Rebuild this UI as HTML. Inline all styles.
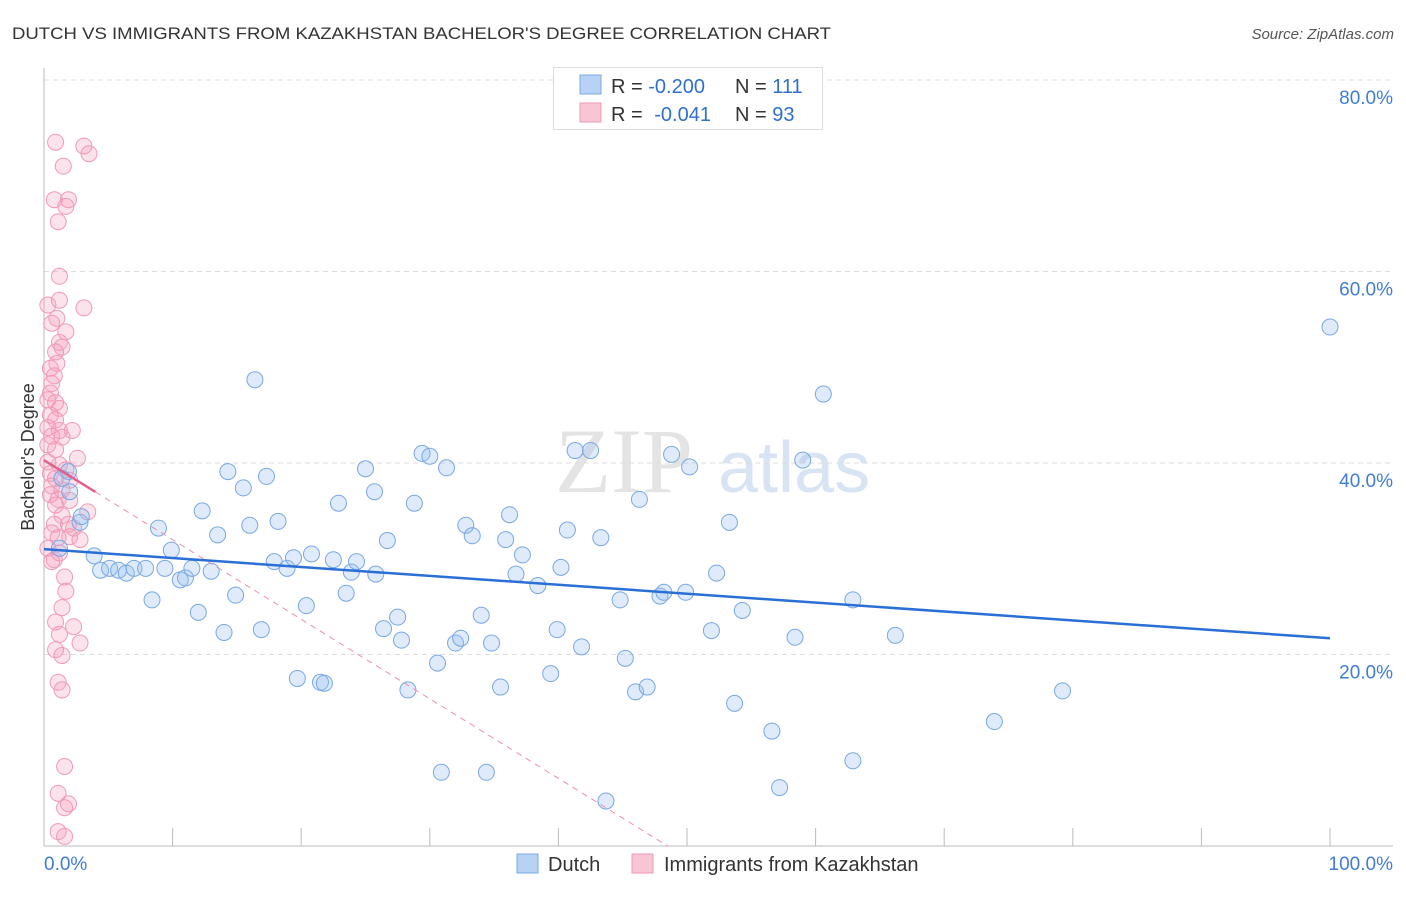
<!DOCTYPE html>
<html><head><meta charset="utf-8"><style>
body{margin:0;background:#fff;width:1406px;height:892px;overflow:hidden;font-family:"Liberation Sans",sans-serif}
</style></head><body>
<svg id="chart" width="1406" height="892" xmlns="http://www.w3.org/2000/svg" font-family="Liberation Sans, sans-serif">
<text x="12" y="39" font-size="17" fill="#333" textLength="819" lengthAdjust="spacingAndGlyphs">DUTCH VS IMMIGRANTS FROM KAZAKHSTAN BACHELOR'S DEGREE CORRELATION CHART</text>
<text x="1394" y="39" font-size="15" fill="#555" text-anchor="end" font-style="italic">Source: ZipAtlas.com</text>
<g><text x="555" y="492" font-size="92" fill="#e4e4e4" font-family="Liberation Serif, serif">ZIP</text><text x="718" y="492" font-size="72" fill="#d8e3f3">atlas</text></g>
<g id="grid"></g><g id="axes"></g><g id="marks"></g>
<text transform="translate(34,457) rotate(-90)" font-size="18" fill="#333" text-anchor="middle">Bachelor's Degree</text>
<g>
<rect x="553.5" y="67.5" width="269" height="62" fill="#fff" stroke="#ddd"/>
<rect x="580" y="75" width="21" height="19" fill="#b8d2f6" stroke="#7aa8e8"/>
<rect x="580" y="103" width="21" height="19" fill="#f9c5d4" stroke="#ee9ab3"/>
<text x="611" y="93" font-size="20" fill="#333">R = <tspan fill="#2f6fd0">-0.200</tspan></text>
<text x="735" y="93" font-size="20" fill="#333">N = <tspan fill="#2f6fd0">111</tspan></text>
<text x="611" y="121" font-size="20" fill="#333">R = <tspan fill="#2f6fd0" dx="6">-0.041</tspan></text>
<text x="735" y="121" font-size="20" fill="#333">N = <tspan fill="#2f6fd0">93</tspan></text>
</g>
<g>
<rect x="517" y="854" width="21" height="19" fill="#b8d2f6" stroke="#7aa8e8"/>
<text x="548" y="871" font-size="20" fill="#333">Dutch</text>
<rect x="632" y="854" width="21" height="19" fill="#f9c5d4" stroke="#ee9ab3"/>
<text x="664" y="871" font-size="20" fill="#333">Immigrants from Kazakhstan</text>
</g>
</svg>
<script>
const yTicks=[20,40,60,80];
const yTickLabels=["20.0%","40.0%","60.0%","80.0%"];
const xLabels=["0.0%","100.0%"];
const dutchX=[100,16.4,60.6,1.9,1.4,2.0,2.8,2.9,1.2,3.9,4.4,5.1,5.8,6.4,7.0,7.9,8.9,9.9,9.4,8.4,10.6,11.0,11.5,12.0,12.3,13.0,13.5,14.0,14.3,14.9,15.5,16.0,16.9,17.3,18.2,17.9,18.9,19.4,19.7,20.4,20.8,21.5,21.8,22.5,22.9,23.5,23.9,24.3,25.0,25.7,25.8,26.4,26.7,27.5,27.8,28.3,28.8,29.4,30.0,30.6,30.9,31.3,32.0,32.4,32.8,33.3,34.0,34.4,34.8,35.5,35.9,36.2,36.7,37.2,38.4,39.4,39.9,40.2,40.7,41.3,41.8,42.5,43.3,43.7,44.8,45.2,46.0,46.3,46.9,47.9,48.2,48.8,49.9,50.2,51.9,52.3,53.3,53.7,54.3,56.6,57.2,58.4,59.0,62.9,62.9,66.2,73.9,79.2];
const dutchY=[54.2,48.7,47.2,39.1,38.4,37.0,33.8,34.4,31.1,30.3,28.8,29.0,28.8,28.5,29.0,29.0,33.2,30.9,29.0,25.7,27.8,28.0,29.0,24.4,35.0,28.7,32.5,22.3,39.1,26.2,37.4,33.5,22.6,38.6,33.9,29.7,29.0,30.1,17.5,25.1,30.5,17.1,17.0,29.9,35.8,26.4,28.6,29.7,39.4,37.0,28.4,22.7,31.9,23.9,21.5,16.3,35.8,41.0,40.7,19.1,7.7,39.5,21.2,21.7,33.5,32.4,24.1,7.7,21.2,16.6,32.0,34.6,28.4,30.4,27.2,18.0,22.6,29.1,33.0,41.3,20.8,41.3,32.2,4.7,25.7,19.6,16.1,36.2,16.6,26.1,26.5,40.9,26.5,39.6,22.5,28.5,33.8,14.9,24.6,12.0,6.1,21.8,40.3,8.9,25.7,22.0,13.0,16.2];
const kazX=[0.9,3.1,3.5,1.5,0.8,1.9,1.7,1.1,1.2,3.1,0.3,1.2,1.0,0.6,1.7,1.2,1.4,0.9,1.0,0.5,0.8,0.6,0.5,0.3,0.9,1.2,0.5,0.9,0.3,1.2,2.2,0.6,1.4,0.3,0.9,2.6,0.3,1.2,1.7,0.5,0.9,2.0,0.6,1.4,0.5,1.1,2.0,0.9,3.4,1.4,0.8,1.9,2.3,0.6,1.1,2.0,2.8,0.3,1.2,0.8,0.6,1.6,1.7,1.4,0.9,2.3,1.2,2.8,0.9,1.4,1.1,1.4,1.6,1.1,1.9,1.6,1.1,1.6];
const kazY=[73.5,73.1,72.3,71.0,67.5,67.5,66.8,65.2,59.5,56.2,56.5,57.0,55.1,54.6,53.7,52.6,52.1,51.6,50.4,49.9,49.1,48.3,47.3,46.6,46.3,45.7,45.0,44.5,43.7,43.4,43.4,42.8,42.7,41.9,41.4,40.5,40.1,39.8,39.3,38.9,38.4,38.2,37.6,37.2,36.7,36.2,36.1,35.6,34.9,34.5,33.6,33.6,33.2,32.7,32.2,32.3,32.0,31.1,30.6,29.9,29.7,28.1,26.6,24.9,23.4,22.9,22.1,21.2,20.5,19.9,17.1,16.3,8.3,5.5,4.4,4.0,1.5,1.0];
const dutchTrend=[31.0,21.7];
const kazTrend=[40.3,0];
const kazTrendX=48.5, kazSolidEnd=4;
const NS="http://www.w3.org/2000/svg";
const X=v=>44+v*12.86, Y=v=>846-v*9.575;
function mk(t,a,p){const e=document.createElementNS(NS,t);for(const k in a)e.setAttribute(k,a[k]);document.getElementById(p).appendChild(e);return e;}
yTicks.forEach((t,i)=>{
 const l=mk('line',{x1:44,x2:1393,y1:Y(t),y2:Y(t),stroke:'#ddd','stroke-dasharray':'5,4'},'grid');
 
 
 const tx=mk('text',{x:1393,y:Y(t)+24,'font-size':19,fill:'#3f7dd6','text-anchor':'end'},'grid');
 tx.textContent=yTickLabels[i];
 
 
});
const ax=mk('line',{x1:44,x2:44,y1:68,y2:846,stroke:'#bbb'},'axes');


const bx=mk('line',{x1:44,x2:1393,y1:846,y2:846,stroke:'#bbb'},'axes');


for(let i=1;i<=10;i++){const t=mk('line',{x1:X(i*10),x2:X(i*10),y1:828,y2:846,stroke:'#bbb'},'axes');
 
 }
[[0,'start',44],[1,'end',1393]].forEach(([i,a,x])=>{const t=mk('text',{x:x,y:870,'font-size':19,fill:'#3f7dd6','text-anchor':a},'axes');t.textContent=xLabels[i];
 
 });
kazX.forEach((v,i)=>{const c=mk('circle',{cx:X(v),cy:Y(kazY[i]),r:8,fill:'rgba(244,160,188,0.3)',stroke:'#f09ab6','stroke-width':1},'marks');
 
 });
dutchX.forEach((v,i)=>{const c=mk('circle',{cx:X(v),cy:Y(dutchY[i]),r:8,fill:'rgba(150,190,240,0.3)',stroke:'#78a8e4','stroke-width':1},'marks');
 
 });
const ky=x=>kazTrend[0]*(1-x/kazTrendX);
const kd=mk('line',{x1:X(kazSolidEnd),y1:Y(ky(kazSolidEnd)),x2:X(kazTrendX),y2:Y(0),stroke:'#ee8fae','stroke-dasharray':'6,5'},'marks');


const ks=mk('line',{x1:X(0),y1:Y(ky(0)),x2:X(kazSolidEnd),y2:Y(ky(kazSolidEnd)),stroke:'#e0628c','stroke-width':2.5},'marks');


const dt=mk('line',{x1:X(0),y1:Y(dutchTrend[0]),x2:X(100),y2:Y(dutchTrend[1]),stroke:'#2a6fd6','stroke-width':2.5},'marks');


</script>
</body></html>
